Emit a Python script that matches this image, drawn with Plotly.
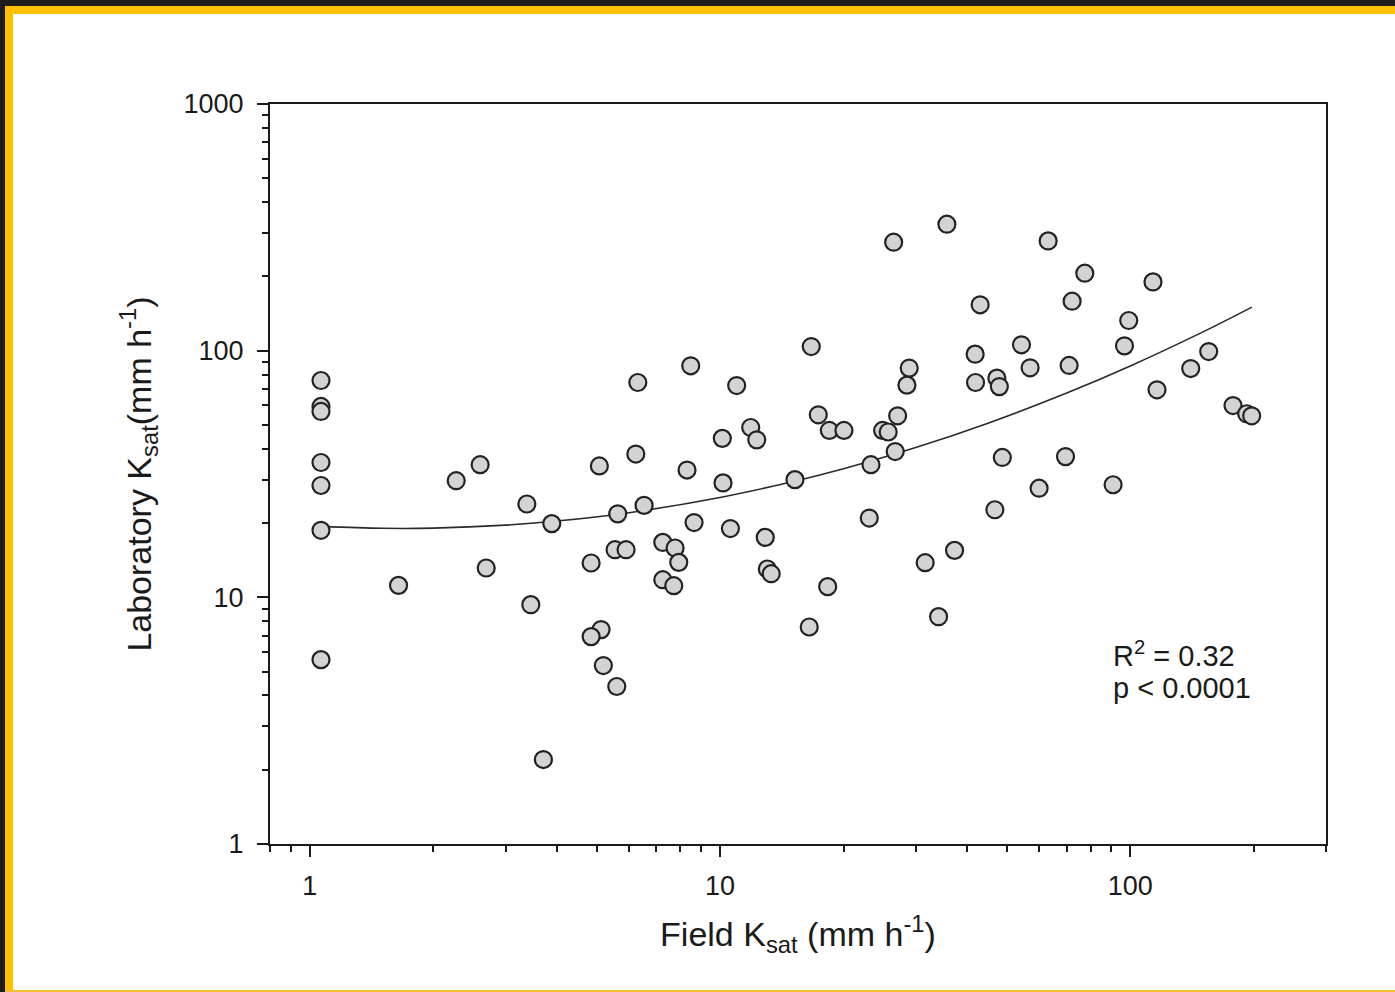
import plotly.graph_objects as go

# ---------------- data ----------------
field_ksat = [
    1.065, 1.065, 1.065, 1.065, 1.065, 1.065, 1.065,
    1.646, 2.275, 2.602, 3.382, 3.890, 2.692, 3.458, 3.711,
    8.484, 6.304, 10.98, 11.88, 12.29, 10.13, 6.234, 5.081, 8.310, 10.17,
    15.23, 6.530, 5.633, 8.644, 10.60, 12.89, 7.253, 7.771, 5.548, 5.902,
    7.933, 4.851, 13.04, 13.33, 7.253, 7.714, 5.130, 4.851, 5.196, 5.602,
    35.73, 26.50, 43.06, 16.69, 41.87, 28.92, 28.55, 41.96, 47.30, 47.96,
    17.36, 18.47, 20.05, 27.10, 24.91, 25.70, 26.73, 23.33, 48.77, 23.11,
    46.77, 37.30, 31.63, 18.30, 16.50, 34.10,
    63.07, 77.48, 113.6, 72.15, 99.15, 54.31, 96.80, 155.3, 57.00, 70.95,
    140.4, 116.2, 178.0, 192.2, 197.7, 69.53, 59.95, 90.82,
]
lab_ksat = [
    75.7, 59.4, 56.7, 35.2, 28.4, 18.7, 5.59,
    11.18, 29.7, 34.5, 23.9, 19.9, 13.15, 9.34, 2.199,
    86.8, 74.3, 72.2, 48.8, 43.5, 44.1, 38.1, 34.1, 32.8, 29.1,
    30.0, 23.6, 21.8, 20.1, 19.0, 17.5, 16.7, 15.85, 15.6, 15.6,
    13.86, 13.78, 13.03, 12.47, 11.79, 11.15, 7.40, 6.93, 5.29, 4.35,
    325.6, 275.3, 153.4, 103.9, 96.8, 84.98, 72.5, 74.3, 77.4, 71.5,
    54.95, 47.5, 47.5, 54.45, 47.5, 46.8, 39.0, 34.5, 36.9, 20.96,
    22.65, 15.50, 13.82, 11.05, 7.58, 8.35,
    278.6, 206.1, 190.0, 158.7, 132.5, 105.6, 104.6, 99.2, 85.2, 87.1,
    84.6, 69.4, 59.9, 55.5, 54.45, 37.2, 27.7, 28.6,
]

# fitted curve
fit_x = [1.07, 1.5, 2, 3, 4, 6, 10, 15, 20, 30, 45, 70, 100, 150, 198]
fit_y = [19.39, 19.05, 19.08, 19.62, 20.38, 22.04, 25.41, 29.41, 33.21,
         40.46, 50.78, 67.31, 86.70, 118.9, 150.2]

x_major = [1, 10, 100]
x_major_text = ["1", "10", "100"]
x_minor = [0.8, 0.9, 2, 3, 4, 5, 6, 7, 8, 9, 20, 30, 40, 50, 60, 70, 80, 90, 200, 300]
y_major = [1, 10, 100, 1000]
y_major_text = ["1", "10", "100", "1000"]
y_minor = [2, 3, 4, 5, 6, 7, 8, 9, 20, 30, 40, 50, 60, 70, 80, 90,
           200, 300, 400, 500, 600, 700, 800, 900]

stat_lines = ["R<sup>2</sup> = 0.32", "p &lt; 0.0001"]

# ---------------- figure ----------------
W, H = 1395, 992
ML, MR, MT, MB = 270, 69, 104, 148
PW, PH = W - ML - MR, H - MT - MB

def px(x):
    return (x - ML) / PW

def py(y):
    return (H - MB - y) / PH

FONT = "Liberation Sans, Arial, sans-serif"
INK = "#1a1a1a"

fig = go.Figure()
fig.add_trace(go.Scatter(
    x=fit_x, y=fit_y, mode="lines", line=dict(color="#2a2a2a", width=1.6, shape="spline"),
    hoverinfo="skip", showlegend=False))
fig.add_trace(go.Scatter(
    x=field_ksat, y=lab_ksat, mode="markers",
    marker=dict(size=17, color="#d3d3d3", line=dict(color="#222222", width=2.2)),
    showlegend=False))

axis_common = dict(
    type="log", showgrid=False, zeroline=False, showline=True, linecolor=INK,
    linewidth=2, mirror=True, ticks="outside", ticklen=11, tickwidth=2, tickcolor=INK,
    tickfont=dict(family=FONT, size=27, color=INK), automargin=False,
    tickmode="array",
)

fig.update_xaxes(
    **axis_common, range=[-0.09691, 2.47712], tickvals=x_major, ticktext=x_major_text,
    minor=dict(tickmode="array", tickvals=x_minor, ticks="outside", ticklen=6,
               tickwidth=2, tickcolor=INK),
    ticklabelstandoff=6,
    title=dict(text="Field K<sub>sat</sub> (mm h<sup>-1</sup>)",
               font=dict(family=FONT, size=34, color=INK), standoff=22),
)
fig.update_yaxes(
    **axis_common, range=[0, 3], tickvals=y_major, ticktext=y_major_text,
    minor=dict(tickmode="array", tickvals=y_minor, ticks="outside", ticklen=6,
               tickwidth=2, tickcolor=INK),
    ticklabelstandoff=8,
    title=dict(text="Laboratory K<sub>sat</sub>(mm h<sup>-1</sup>)",
               font=dict(family=FONT, size=34, color=INK), standoff=22),
)

# statistics text
for txt, yc in zip(stat_lines, [654, 688]):
    fig.add_annotation(text=txt, xref="paper", yref="paper", x=px(1111), y=py(yc),
                       xanchor="left", yanchor="middle", showarrow=False,
                       font=dict(family=FONT, size=29, color=INK))

# screenshot frame decoration
shapes = [
    dict(x0=0, x1=W, y0=0, y1=6, color="#1c1c1c"),
    dict(x0=0, x1=5, y0=0, y1=H, color="#1c1c1c"),
    dict(x0=5, x1=W, y0=6, y1=14, color="#ffc000"),
    dict(x0=5, x1=13, y0=6, y1=H, color="#ffc000"),
    dict(x0=5, x1=W, y0=990, y1=H, color="#f5c030"),
]
for s in shapes:
    fig.add_shape(type="rect", xref="paper", yref="paper",
                  x0=px(s["x0"]), x1=px(s["x1"]), y0=py(s["y1"]), y1=py(s["y0"]),
                  fillcolor=s["color"], line=dict(width=0), layer="above")

fig.update_layout(
    width=W, height=H, template="none",
    margin=dict(l=ML, r=MR, t=MT, b=MB, pad=0),
    paper_bgcolor="white", plot_bgcolor="white",
    font=dict(family=FONT, color=INK), showlegend=False,
)

fig.write_html("out.html", config={"displayModeBar": False})
